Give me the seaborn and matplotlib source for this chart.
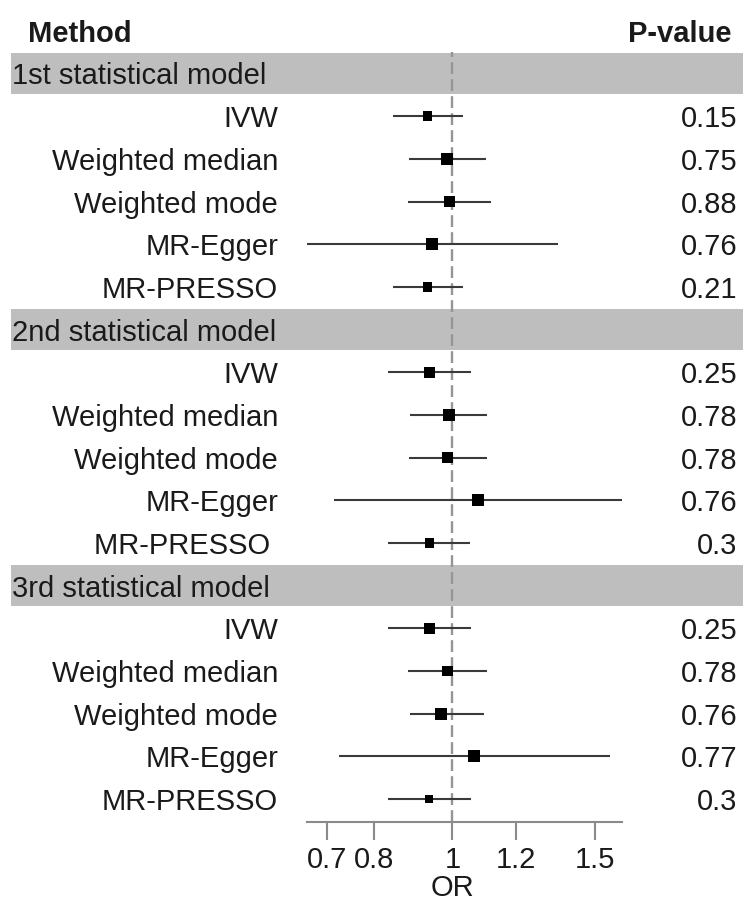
import numpy as np
import pandas as pd
import matplotlib
matplotlib.use("Agg")
import matplotlib.pyplot as plt
import seaborn as sns
from matplotlib.patches import Rectangle
from matplotlib.ticker import NullLocator

# ---------------- data ----------------
groups = ["1st statistical model", "2nd statistical model", "3rd statistical model"]
methods_g1 = ["IVW", "Weighted median", "Weighted mode", "MR-Egger", "MR-PRESSO"]
methods_g2 = ["IVW", "Weighted median", "Weighted mode", "MR-Egger", "MR-PRESSO "]
methods_g3 = ["IVW", "Weighted median", "Weighted mode", "MR-Egger", "MR-PRESSO"]

or_g1 = [0.931, 0.984, 0.991, 0.943, 0.931]
lo_g1 = [0.844, 0.884, 0.880, 0.660, 0.844]
hi_g1 = [1.031, 1.100, 1.117, 1.352, 1.031]
p_g1 = ["0.15", "0.75", "0.88", "0.76", "0.21"]

or_g2 = [0.936, 0.990, 0.986, 1.076, 0.936]
lo_g2 = [0.831, 0.885, 0.884, 0.713, 0.832]
hi_g2 = [1.054, 1.102, 1.102, 1.620, 1.052]
p_g2 = ["0.25", "0.78", "0.78", "0.76", "0.3"]

or_g3 = [0.936, 0.986, 0.968, 1.064, 0.936]
lo_g3 = [0.831, 0.881, 0.885, 0.724, 0.831]
hi_g3 = [1.054, 1.104, 1.095, 1.567, 1.054]
p_g3 = ["0.25", "0.78", "0.76", "0.77", "0.3"]

# relative box sizes (weights)
box_g1 = [7, 9, 8, 9, 7]
box_g2 = [8, 9, 8, 9, 7]
box_g3 = [8, 7.5, 9, 9, 6]

xticks = [0.7, 0.8, 1, 1.2, 1.5]
xtick_labels = ["0.7", "0.8", "1", "1.2", "1.5"]

# ---------------- table ----------------
records = []
headers = []
row = 0
for g, m, o, l, h, p, b in zip(groups,
                               [methods_g1, methods_g2, methods_g3],
                               [or_g1, or_g2, or_g3],
                               [lo_g1, lo_g2, lo_g3],
                               [hi_g1, hi_g2, hi_g3],
                               [p_g1, p_g2, p_g3],
                               [box_g1, box_g2, box_g3]):
    headers.append((g, row))
    row += 1
    for mi, oi, li, hi_, pi, bi in zip(m, o, l, h, p, b):
        records.append(dict(group=g, method=mi, OR=oi, lo=li, hi=hi_, p=pi,
                            box=bi, row=row))
        row += 1
df = pd.DataFrame(records)
nrows = row

# ---------------- figure ----------------
W, H = 743, 904
DPI = 100
sns.set_style("white")
plt.rcParams["font.family"] = ["Liberation Sans", "DejaVu Sans"]
FS = 21
TXT = "#1a1a1a"

fig = plt.figure(figsize=(W / DPI, H / DPI), dpi=DPI)

# background/table axes in pixel coordinates
ax0 = fig.add_axes([0, 0, 1, 1])
ax0.set_xlim(0, W)
ax0.set_ylim(H, 0)
ax0.axis("off")

ROW0 = 74.5     # pixel centre of first row
ROWH = 42.68    # row height in pixels


def ypix(r):
    return ROW0 + ROWH * r


# header
ax0.text(28, 42.5, "Method", ha="left", va="baseline", fontsize=FS,
         fontweight="bold", color=TXT)
ax0.text(732, 42.5, "P-value", ha="right", va="baseline", fontsize=FS,
         fontweight="bold", color=TXT)

for g, r in headers:
    yc = ypix(r)
    ax0.add_patch(Rectangle((11, yc - ROWH / 2 + 0.5), W - 11, ROWH - 1,
                            facecolor="#bebebe", edgecolor="none", zorder=0))
    ax0.text(12, yc + 10, g, ha="left", va="baseline", fontsize=FS, color=TXT)

for _, rr in df.iterrows():
    yc = ypix(rr["row"])
    ax0.text(278, yc + 10, rr["method"], ha="right", va="baseline",
             fontsize=FS, color=TXT)
    ax0.text(737, yc + 10, rr["p"], ha="right", va="baseline",
             fontsize=FS, color=TXT)

# forest axes
x_left, x_right = 306.7, 621.7
y_top, y_bot = 53.0, 822.7
ax = fig.add_axes([x_left / W, 1 - y_bot / H, (x_right - x_left) / W,
                   (y_bot - y_top) / H])
ax.patch.set_alpha(0)
ax.set_xscale("log")
ax.set_xlim(df["lo"].min(), df["hi"].max())
ax.set_ylim((y_bot - ROW0) / ROWH, (y_top - ROW0) / ROWH)

ax.axvline(1, color="#959595", lw=1.7, ls=(0, (5, 2.2)), zorder=1)

ax.hlines(df["row"], df["lo"], df["hi"], color="#3a3a3a", lw=1.5, zorder=2)

df["area"] = (df["box"] * 1.35 * 72 / DPI) ** 2
amin, amax = df["area"].min(), df["area"].max()
sns.scatterplot(data=df, x="OR", y="row", size="area", sizes=(amin, amax),
                size_norm=(amin, amax), marker="s", color="black",
                edgecolor="black", linewidth=0, legend=False, ax=ax, zorder=3)

for s in ["left", "right", "top"]:
    ax.spines[s].set_visible(False)
ax.spines["bottom"].set_color("#8a8a8a")
ax.spines["bottom"].set_linewidth(1.5)
ax.set_yticks([])
ax.set_ylabel("")
ax.xaxis.set_minor_locator(NullLocator())
ax.set_xticks(xticks)
ax.set_xticklabels(xtick_labels)
ax.tick_params(axis="x", which="major", bottom=True, direction="out",
               length=13, width=1.5, color="#8a8a8a", labelsize=FS,
               labelcolor=TXT, pad=3.5)
ax.set_xlabel("OR", fontsize=FS, color=TXT)
# centre the axis title over the reference line (OR = 1)
xl0, xl1 = np.log(ax.get_xlim())
ax.xaxis.set_label_coords((0 - xl0) / (xl1 - xl0), -0.0665)
ax.xaxis.label.set_va("top")

fig.savefig("out.png", dpi=DPI)
